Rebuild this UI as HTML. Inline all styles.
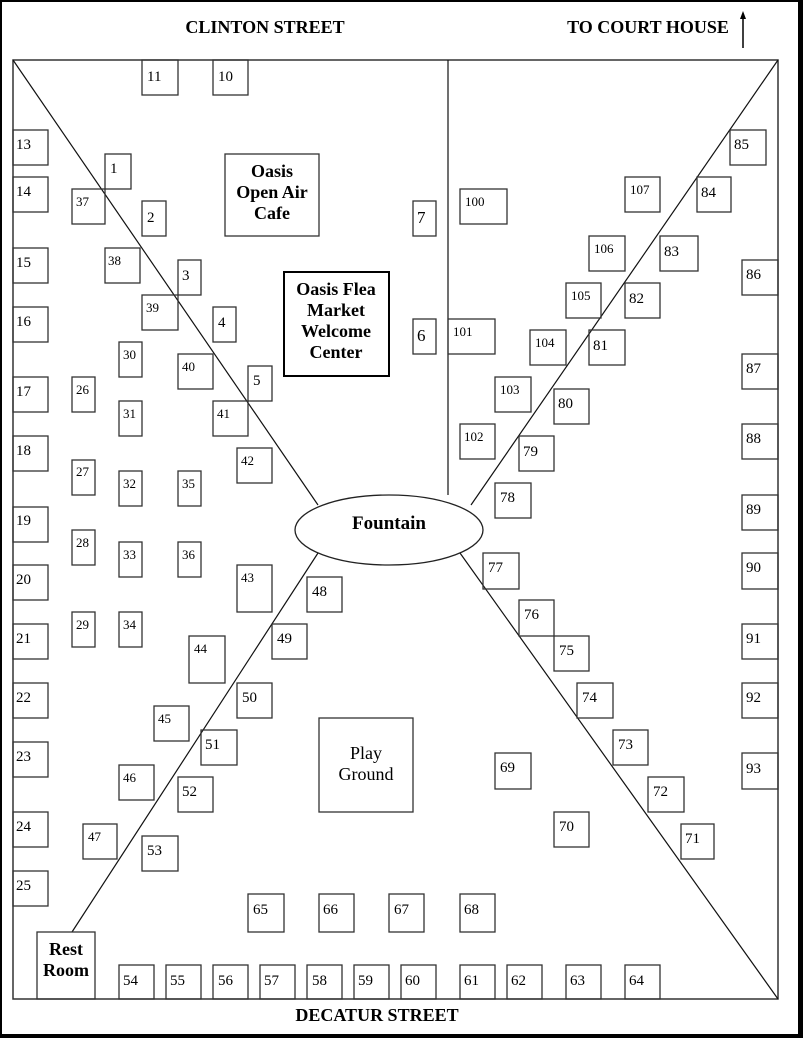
<!DOCTYPE html>
<html><head><meta charset="utf-8"><style>
html,body{margin:0;padding:0;background:#fff;}
svg{display:block;}
text{font-family:"Liberation Serif",serif;fill:#000;}
.n{font-size:15px;}
.b{font-weight:bold;font-size:18px;}
</style></head><body>
<svg width="803" height="1038" viewBox="0 0 803 1038" xmlns="http://www.w3.org/2000/svg">
<rect x="0" y="0" width="803" height="1038" fill="#fff"/>
<rect x="1" y="1" width="799" height="1034" fill="none" stroke="#000" stroke-width="2"/>
<rect x="0" y="1034" width="803" height="4" fill="#000"/>
<rect x="798" y="0" width="5" height="1038" fill="#000"/>
<text class="b" x="265" y="33" text-anchor="middle">CLINTON STREET</text>
<text class="b" x="648" y="33" text-anchor="middle">TO COURT HOUSE</text>
<line x1="743" y1="48" x2="743" y2="16" stroke="#000" stroke-width="1.5"/>
<polygon points="743,11 740,19 746,19" fill="#000"/>
<text class="b" x="377" y="1021" text-anchor="middle">DECATUR STREET</text>
<rect x="13" y="60" width="765" height="939" fill="none" stroke="#333" stroke-width="1.5"/>
<g stroke="#111" stroke-width="1.2">
<line x1="13" y1="60" x2="318" y2="505"/>
<line x1="778" y1="60" x2="471" y2="505"/>
<line x1="72" y1="932" x2="318" y2="553"/>
<line x1="778" y1="999" x2="460" y2="553"/>
<line x1="448" y1="60" x2="448" y2="495"/>
</g>
<ellipse cx="389" cy="530" rx="94" ry="35" fill="#fff" stroke="#222" stroke-width="1.3"/>
<text x="389" y="529" text-anchor="middle" style="font-weight:bold;font-size:19px">Fountain</text>
<g fill="none" stroke="#333" stroke-width="1.3">
<rect x="142" y="60" width="36" height="35"/><rect x="213" y="60" width="35" height="35"/>
<rect x="13" y="130" width="35" height="35"/><rect x="13" y="177" width="35" height="35"/>
<rect x="105" y="154" width="26" height="35"/><rect x="72" y="189" width="33" height="35"/>
<rect x="142" y="201" width="24" height="35"/><rect x="225" y="154" width="94" height="82"/>
<rect x="13" y="248" width="35" height="35"/><rect x="105" y="248" width="35" height="35"/>
<rect x="178" y="260" width="23" height="35"/><rect x="142" y="295" width="36" height="35"/>
<rect x="13" y="307" width="35" height="35"/><rect x="213" y="307" width="23" height="35"/>
<rect x="119" y="342" width="23" height="35"/><rect x="178" y="354" width="35" height="35"/>
<rect x="248" y="366" width="24" height="35"/><rect x="13" y="377" width="35" height="35"/>
<rect x="72" y="377" width="23" height="35"/><rect x="119" y="401" width="23" height="35"/>
<rect x="213" y="401" width="35" height="35"/><rect x="13" y="436" width="35" height="35"/>
<rect x="237" y="448" width="35" height="35"/><rect x="72" y="460" width="23" height="35"/>
<rect x="119" y="471" width="23" height="35"/><rect x="178" y="471" width="23" height="35"/>
<rect x="13" y="507" width="35" height="35"/>
<rect x="72" y="530" width="23" height="35"/><rect x="119" y="542" width="23" height="35"/>
<rect x="178" y="542" width="23" height="35"/><rect x="13" y="565" width="35" height="35"/>
<rect x="237" y="565" width="35" height="47"/><rect x="307" y="577" width="35" height="35"/>
<rect x="13" y="624" width="35" height="35"/><rect x="72" y="612" width="23" height="35"/>
<rect x="119" y="612" width="23" height="35"/><rect x="189" y="636" width="36" height="47"/>
<rect x="272" y="624" width="35" height="35"/><rect x="13" y="683" width="35" height="35"/>
<rect x="237" y="683" width="35" height="35"/><rect x="154" y="706" width="35" height="35"/>
<rect x="201" y="730" width="36" height="35"/><rect x="13" y="742" width="35" height="35"/>
<rect x="119" y="765" width="35" height="35"/><rect x="178" y="777" width="35" height="35"/>
<rect x="319" y="718" width="94" height="94"/><rect x="13" y="812" width="35" height="35"/>
<rect x="83" y="824" width="34" height="35"/><rect x="142" y="836" width="36" height="35"/>
<rect x="13" y="871" width="35" height="35"/>
<rect x="248" y="894" width="36" height="38"/><rect x="319" y="894" width="35" height="38"/>
<rect x="389" y="894" width="35" height="38"/><rect x="460" y="894" width="35" height="38"/>
<rect x="37" y="932" width="58" height="67"/>
<rect x="119" y="965" width="35" height="34"/><rect x="166" y="965" width="35" height="34"/>
<rect x="213" y="965" width="35" height="34"/><rect x="260" y="965" width="35" height="34"/>
<rect x="307" y="965" width="35" height="34"/><rect x="354" y="965" width="35" height="34"/>
<rect x="401" y="965" width="35" height="34"/><rect x="460" y="965" width="35" height="34"/>
<rect x="507" y="965" width="35" height="34"/><rect x="566" y="965" width="35" height="34"/>
<rect x="625" y="965" width="35" height="34"/>
<rect x="284" y="272" width="105" height="104" stroke="#000" stroke-width="2"/>
<rect x="413" y="201" width="23" height="35"/><rect x="460" y="189" width="47" height="35"/>
<rect x="413" y="319" width="23" height="35"/><rect x="448" y="319" width="47" height="35"/>
<rect x="730" y="130" width="36" height="35"/><rect x="625" y="177" width="35" height="35"/>
<rect x="697" y="177" width="34" height="35"/><rect x="589" y="236" width="36" height="35"/>
<rect x="660" y="236" width="38" height="35"/><rect x="742" y="260" width="36" height="35"/>
<rect x="566" y="283" width="35" height="35"/><rect x="625" y="283" width="35" height="35"/>
<rect x="530" y="330" width="36" height="35"/><rect x="589" y="330" width="36" height="35"/>
<rect x="742" y="354" width="36" height="35"/><rect x="495" y="377" width="36" height="35"/>
<rect x="554" y="389" width="35" height="35"/><rect x="460" y="424" width="35" height="35"/>
<rect x="519" y="436" width="35" height="35"/><rect x="742" y="424" width="36" height="35"/>
<rect x="495" y="483" width="36" height="35"/><rect x="742" y="495" width="36" height="35"/>
<rect x="483" y="553" width="36" height="36"/><rect x="742" y="553" width="36" height="36"/>
<rect x="519" y="600" width="35" height="36"/><rect x="554" y="636" width="35" height="35"/>
<rect x="742" y="624" width="36" height="35"/><rect x="577" y="683" width="36" height="35"/>
<rect x="742" y="683" width="36" height="35"/><rect x="613" y="730" width="35" height="35"/>
<rect x="495" y="753" width="36" height="36"/><rect x="742" y="753" width="36" height="36"/>
<rect x="648" y="777" width="36" height="35"/><rect x="554" y="812" width="35" height="35"/>
<rect x="681" y="824" width="33" height="35"/>
</g>
<g class="n">
<text x="147" y="81">11</text><text x="218" y="81">10</text>
<text x="16" y="149">13</text><text x="16" y="196">14</text>
<text x="110" y="173">1</text><text x="76" y="206" font-size="13">37</text>
<text x="147" y="222">2</text>
<text x="16" y="267">15</text><text x="108" y="265" font-size="13">38</text>
<text x="182" y="280">3</text><text x="146" y="312" font-size="13">39</text>
<text x="16" y="326">16</text><text x="218" y="327">4</text>
<text x="123" y="359" font-size="13">30</text><text x="182" y="371" font-size="13">40</text>
<text x="253" y="385">5</text><text x="16" y="396">17</text>
<text x="76" y="394" font-size="13">26</text><text x="123" y="418" font-size="13">31</text>
<text x="217" y="418" font-size="13">41</text><text x="16" y="455">18</text>
<text x="241" y="465" font-size="13">42</text><text x="76" y="476" font-size="13">27</text>
<text x="123" y="488" font-size="13">32</text><text x="182" y="488" font-size="13">35</text>
<text x="16" y="525">19</text>
<text x="76" y="547" font-size="13">28</text><text x="123" y="559" font-size="13">33</text>
<text x="182" y="559" font-size="13">36</text><text x="16" y="584">20</text>
<text x="241" y="582" font-size="13">43</text><text x="312" y="596">48</text>
<text x="16" y="643">21</text><text x="76" y="629" font-size="13">29</text>
<text x="123" y="629" font-size="13">34</text><text x="194" y="653" font-size="13">44</text>
<text x="277" y="643">49</text><text x="16" y="702">22</text>
<text x="242" y="702">50</text><text x="158" y="723" font-size="13">45</text>
<text x="205" y="749">51</text><text x="16" y="761">23</text>
<text x="123" y="782" font-size="13">46</text><text x="182" y="796">52</text>
<text x="16" y="831">24</text><text x="88" y="841" font-size="13">47</text>
<text x="147" y="855">53</text><text x="16" y="890">25</text>
<text x="253" y="914">65</text><text x="323" y="914">66</text>
<text x="394" y="914">67</text><text x="464" y="914">68</text>
<text x="123" y="985">54</text><text x="170" y="985">55</text>
<text x="218" y="985">56</text><text x="264" y="985">57</text>
<text x="312" y="985">58</text><text x="358" y="985">59</text>
<text x="405" y="985">60</text><text x="464" y="985">61</text>
<text x="511" y="985">62</text><text x="570" y="985">63</text>
<text x="629" y="985">64</text>
<text x="417" y="223" font-size="17">7</text><text x="465" y="206" font-size="13">100</text>
<text x="417" y="341" font-size="17">6</text><text x="453" y="336" font-size="13">101</text>
<text x="734" y="149">85</text><text x="630" y="194" font-size="13">107</text>
<text x="701" y="197">84</text><text x="594" y="253" font-size="13">106</text>
<text x="664" y="256">83</text><text x="746" y="279">86</text>
<text x="571" y="300" font-size="13">105</text><text x="629" y="303">82</text>
<text x="535" y="347" font-size="13">104</text><text x="593" y="350">81</text>
<text x="746" y="373">87</text><text x="500" y="394" font-size="13">103</text>
<text x="558" y="408">80</text><text x="464" y="441" font-size="13">102</text>
<text x="523" y="456">79</text><text x="746" y="443">88</text>
<text x="500" y="502">78</text><text x="746" y="514">89</text>
<text x="488" y="572">77</text><text x="746" y="572">90</text>
<text x="524" y="619">76</text><text x="559" y="655">75</text>
<text x="746" y="643">91</text><text x="582" y="702">74</text>
<text x="746" y="702">92</text><text x="618" y="749">73</text>
<text x="500" y="772">69</text><text x="746" y="773">93</text>
<text x="653" y="796">72</text><text x="559" y="831">70</text>
<text x="685" y="843">71</text>
</g>
<g class="b" text-anchor="middle">
<text x="272" y="177">Oasis</text><text x="272" y="198">Open Air</text><text x="272" y="219">Cafe</text>
<text x="336" y="295">Oasis Flea</text><text x="336" y="316">Market</text>
<text x="336" y="337">Welcome</text><text x="336" y="358">Center</text>
<text x="66" y="955">Rest</text><text x="66" y="976">Room</text>
</g>
<text x="366" y="759" text-anchor="middle" font-size="18">Play</text>
<text x="366" y="780" text-anchor="middle" font-size="18">Ground</text>
</svg>
</body></html>
